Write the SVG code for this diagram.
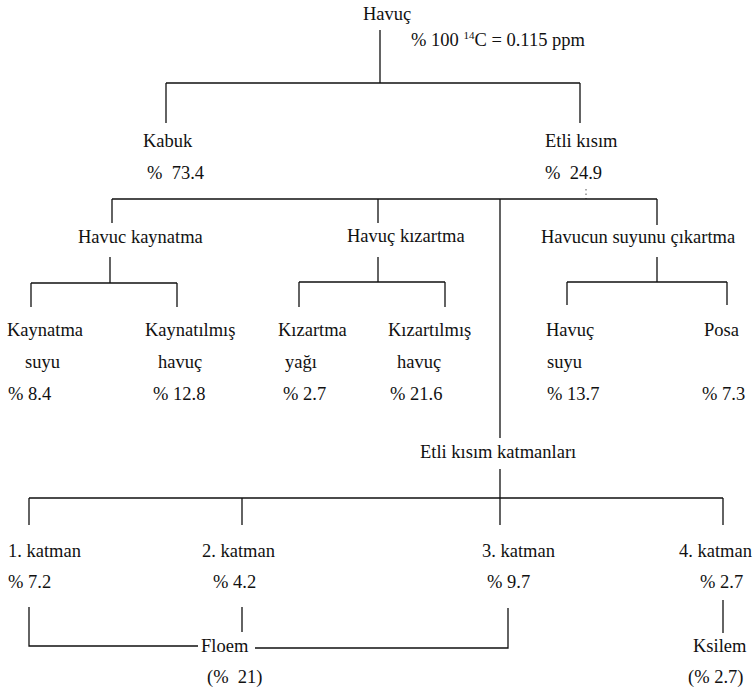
<svg xmlns="http://www.w3.org/2000/svg" width="756" height="690" viewBox="0 0 756 690">
<style>
text{font-family:'Liberation Serif','DejaVu Serif',serif;font-size:18.5px;fill:#111;white-space:pre}
.ln{fill:none;stroke:#111;stroke-width:1.3}
.dot{fill:none;stroke:#555;stroke-width:1;stroke-dasharray:1.5 3}
</style>
<rect width="756" height="690" fill="#fff"/>
<g id="connectors">
<path class="ln" d="M380,30V83M166,83H580M166,83V123M580,83V123"/>
<path class="dot" d="M586,189V199"/>
<path class="ln" d="M112,199H657M112,199V223M378,199V223M500,199V438M657,199V225"/>
<path class="ln" d="M110,257V283M31,283H177M31,283V307M177,283V307"/>
<path class="ln" d="M378,257V282M299,282H445M299,282V307M445,282V307"/>
<path class="ln" d="M657,257V282M567,282H727M567,282V305M727,282V305"/>
<path class="ln" d="M500,469V498M29,498H723M29,498V525M242,498V525M500,498V525M723,498V525"/>
<path class="ln" d="M29,607V646H198M242,607V632M255,648H508V608"/>
<path class="ln" d="M723,600V633"/>
</g>
<g font-family="Liberation Serif, DejaVu Serif, serif">
<g id="havuc"><text x="363" y="20">Havuç</text><text x="411" y="46">% 100 <tspan font-size="11" dy="-7">14</tspan><tspan dy="7">C = 0.115 ppm</tspan></text></g>
<g id="kabuk"><text x="143" y="147">Kabuk</text><text x="147" y="179">%  73.4</text></g>
<g id="etli"><text x="545" y="147">Etli kısım</text><text x="545" y="179">%  24.9</text></g>
<g id="kaynatma"><text x="78" y="243">Havuc kaynatma</text></g>
<g id="kizartma"><text x="347" y="242">Havuç kızartma</text></g>
<g id="suyu"><text x="541" y="243">Havucun suyunu çıkartma</text></g>
<g id="kaynatma-suyu"><text x="7" y="336">Kaynatma</text><text x="25" y="368">suyu</text><text x="8" y="400">% 8.4</text></g>
<g id="kaynatilmis"><text x="145" y="336">Kaynatılmış</text><text x="158" y="368">havuç</text><text x="153" y="400">% 12.8</text></g>
<g id="kizartma-yagi"><text x="278" y="336">Kızartma</text><text x="285" y="368">yağı</text><text x="283" y="400">% 2.7</text></g>
<g id="kizartilmis"><text x="388" y="336">Kızartılmış</text><text x="397" y="368">havuç</text><text x="390" y="400">% 21.6</text></g>
<g id="havuc-suyu"><text x="546" y="336">Havuç</text><text x="547" y="368">suyu</text><text x="547" y="400">% 13.7</text></g>
<g id="posa"><text x="704" y="336">Posa</text><text x="702" y="400">% 7.3</text></g>
<g id="katmanlar"><text x="420" y="458">Etli kısım katmanları</text></g>
<g id="k1"><text x="8" y="557">1. katman</text><text x="8" y="588">% 7.2</text></g>
<g id="k2"><text x="202" y="557">2. katman</text><text x="213" y="588">% 4.2</text></g>
<g id="k3"><text x="482" y="557">3. katman</text><text x="487" y="588">% 9.7</text></g>
<g id="k4"><text x="679" y="557">4. katman</text><text x="700" y="588">% 2.7</text></g>
<g id="floem"><text x="201" y="652">Floem</text><text x="207" y="683">(%  21)</text></g>
<g id="ksilem"><text x="693" y="652">Ksilem</text><text x="688" y="683">(% 2.7)</text></g>
</g>
</svg>
